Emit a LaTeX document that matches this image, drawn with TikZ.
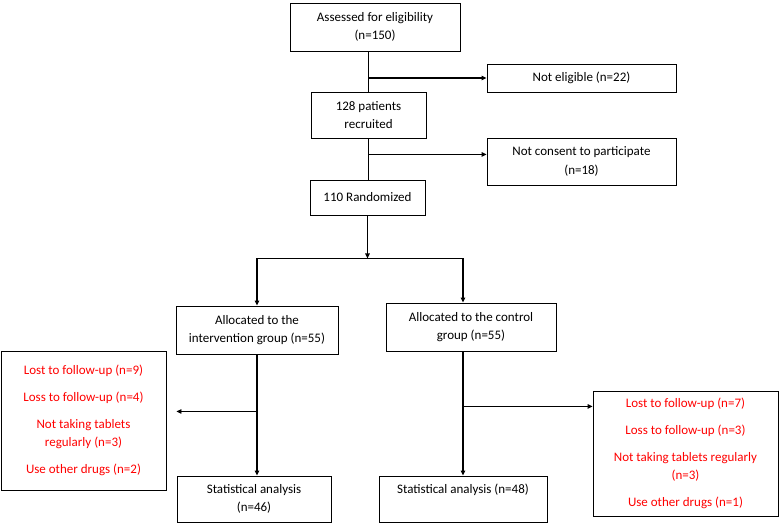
\documentclass[tikz,border=0pt]{standalone}
\usepackage{fontspec}
\setmainfont{Carlito}
\usetikzlibrary{arrows.meta,positioning}

\begin{document}
\begin{tikzpicture}[
        x=1pt, y=-1pt,
        box/.style={rectangle, draw=black, line width=0.9pt, align=center, inner sep=2pt, font=\fontsize{13}{18.5}\selectfont},
        redbox/.style={box, text=red},
        flow/.style={-{Triangle[length=5pt,width=4.5pt]}, line width=1.4pt},
        trunk/.style={line width=1.4pt},
        side/.style={-{Triangle[length=5pt,width=4.5pt]}, line width=0.9pt}
    ]
    \useasboundingbox (0,0) rectangle (780,523);

    % Enrolment
    \node[box, minimum width=170, minimum height=48] (assess) at (375,27) {Assessed for eligibility\\(n=150)};
    \node[box, minimum width=189, minimum height=28] (noelig) at (581.5,78) {Not eligible (n=22)};
    \node[box, minimum width=115, minimum height=46] (recruit) at (368.5,115) {128 patients\\recruited};
    \node[box, minimum width=189, minimum height=47] (noconsent) at (581.5,161.5) {Not consent to participate\\(n=18)};
    \node[box, minimum width=115, minimum height=35] (rand) at (367.5,197.5) {110 Randomized};

    % Allocation
    \node[box, minimum width=162, minimum height=48] (interv) at (257,330) {Allocated to the\\intervention group (n=55)};
    \node[box, minimum width=170, minimum height=48] (control) at (471,327) {Allocated to the control\\group (n=55)};

    % Drop-outs
    \node[redbox, minimum width=165, minimum height=139] (lostA) at (83.5,420.5) {Lost to follow-up (n=9)\\[8.5pt]Loss to follow-up (n=4)\\[8.5pt]Not taking tablets\\regularly (n=3)\\[8.5pt]Use other drugs (n=2)};
    \node[redbox, minimum width=185, minimum height=125] (lostB) at (685.5,453.5) {Lost to follow-up (n=7)\\[8.5pt]Loss to follow-up (n=3)\\[8.5pt]Not taking tablets regularly\\(n=3)\\[8.5pt]Use other drugs (n=1)};

    % Analysis
    \node[box, minimum width=154, minimum height=46] (statA) at (254,499) {Statistical analysis\\(n=46)};
    \node[box, minimum width=168, minimum height=46] (statB) at (463,499) {Statistical analysis (n=48)\\\phantom{(n=48)}};

    % Branch points
    \coordinate (b1) at (recruit |- noelig);
    \coordinate (b2) at ([yshift=-16pt]recruit.south);
    \coordinate (split) at ([yshift=-43pt]rand.south);
    \coordinate (b3) at ([yshift=-57pt]interv.south);
    \coordinate (b4) at ([yshift=-55pt]statB |- control.south);

    % Lines
    \draw[trunk] (recruit |- assess.south) -- (recruit.north);
    \draw[flow] (b1) -- (b1 -| noelig.west);
    \draw[trunk] (recruit.south) -- (recruit |- rand.north);
    \draw[flow] (b2) -- (b2 -| noconsent.west);
    \draw[flow] (rand.south) -- (rand |- split);
    \draw[trunk] (interv |- split) -- (statB |- split);
    \draw[flow] (interv |- split) -- (interv.north);
    \draw[flow] (statB |- split) -- (statB |- control.north);
    \draw[flow] (interv.south) -- (interv.south |- statA.north);
    \draw[side, shorten >=10pt] (b3) -- (b3 -| lostA.east);
    \draw[flow] (statB |- control.south) -- (statB.north);
    \draw[flow] (b4) -- (b4 -| lostB.west);

\end{tikzpicture}
\end{document}
